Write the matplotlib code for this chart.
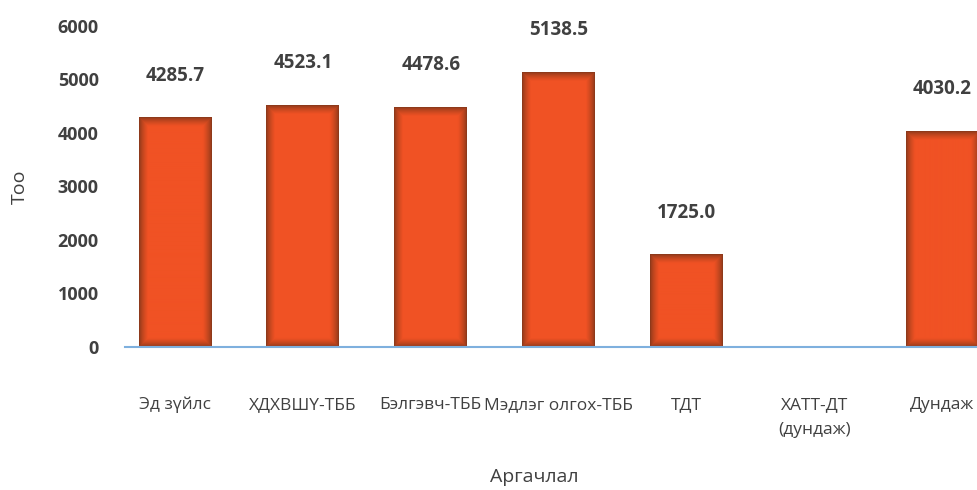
import numpy as np
import matplotlib.pyplot as plt
from matplotlib.colors import to_rgb

categories = ["Эд зүйлс", "ХДХВШҮ-ТББ", "Бэлгэвч-ТББ", "Мэдлэг олгох-ТББ",
              "ТДТ", "ХАТТ-ДТ\n(дундаж)", "Дундаж"]
values = [4285.7, 4523.1, 4478.6, 5138.5, 1725.0, np.nan, 4030.2]
yticks = [0, 1000, 2000, 3000, 4000, 5000, 6000]

TEXT = "#404040"
BASE = to_rgb("#F05224")
DARK = to_rgb("#7A3418")

plt.rcParams["font.family"] = ["Open Sans", "DejaVu Sans"]

fig = plt.figure(figsize=(9.78, 4.9), dpi=100)
ax = fig.add_axes([0.128, 0.292, 0.872, 0.655])

x = np.arange(len(categories))
ax.set_xlim(-0.39, 6.28)
ax.set_ylim(0, 6000)

bars = []
for xi, v in zip(x, values):
    if np.isnan(v):
        continue
    b = ax.bar(xi, v, width=0.57, color=BASE, zorder=2)[0]
    bars.append((b, v))

# inner shadow on each bar
fig.canvas.draw()
for b, v in bars:
    x0, y0 = b.get_x(), 0
    w, h = b.get_width(), b.get_height()
    p0 = ax.transData.transform((x0, y0))
    p1 = ax.transData.transform((x0 + w, y0 + h))
    W = int(round(p1[0] - p0[0]))
    H = int(round(p1[1] - p0[1]))
    xx = np.arange(W) + 0.5
    yy = np.arange(H) + 0.5
    dx = np.minimum(xx, W - xx)[None, :]
    dy = np.minimum(yy, H - yy)[:, None]
    d = np.minimum(np.broadcast_to(dx, (H, W)), np.broadcast_to(dy, (H, W)))
    t = np.clip(d / 9.0, 0, 1) ** 0.6
    img = np.empty((H, W, 3))
    for c in range(3):
        img[..., c] = DARK[c] * (1 - t) + BASE[c] * t
    ax.imshow(img, extent=(x0, x0 + w, y0, y0 + h), aspect="auto",
              zorder=3, interpolation="bilinear")
    ax.annotate(f"{v:.1f}", (b.get_x() + w / 2, v), xytext=(0, 42),
                textcoords="offset pixels", ha="center", va="center",
                fontsize=13.5, fontweight="bold", color=TEXT)

ax.set_xlim(-0.39, 6.28)
ax.set_ylim(0, 6000)

ax.set_xticks(x)
ax.set_xticklabels(categories, fontsize=12.5, color=TEXT, linespacing=1.75)
ax.set_yticks(yticks)
ax.set_yticklabels([str(t) for t in yticks], fontsize=13,
                   fontweight="bold", color=TEXT)
ax.tick_params(axis="both", length=0)
ax.tick_params(axis="x", pad=36)
ax.tick_params(axis="y", pad=19)

for s in ["top", "right", "left"]:
    ax.spines[s].set_visible(False)
ax.spines["bottom"].set_color("#7EB0DE")
ax.spines["bottom"].set_linewidth(1.5)
ax.spines["bottom"].set_zorder(4)

ax.set_ylabel("Тоо", fontsize=14, color=TEXT)
ax.yaxis.set_label_coords(-0.113, 0.5)
ax.set_xlabel("Аргачлал", fontsize=14, color=TEXT, va="center")
ax.xaxis.set_label_coords(0.48, -0.405)

fig.savefig("out.png", dpi=100)
